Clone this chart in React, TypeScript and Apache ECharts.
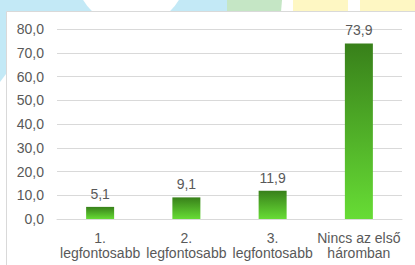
import React, { useEffect, useRef } from "react";
import * as echarts from "echarts";

const categories = ["1.\nlegfontosabb", "2.\nlegfontosabb", "3.\nlegfontosabb", "Nincs az első\nháromban"];
const values = [5.1, 9.1, 11.9, 73.9];
const yMin = 0;
const yMax = 80;
const yInterval = 10;

const fmt = (v: number) => v.toFixed(1).replace(".", ",");

export default function App() {
  const ref = useRef<HTMLDivElement>(null);
  useEffect(() => {
    if (!ref.current) return;
    const chart = echarts.init(ref.current, null, { renderer: "svg" });
    chart.setOption({
      animation: false,
      backgroundColor: "#ffffff",
      textStyle: { fontFamily: "Liberation Sans, Arial, sans-serif" },
      graphic: [
        {
          type: "polygon",
          z: -10,
          silent: true,
          shape: { points: [[0, 0], [227, 0], [227, 12], [6, 12], [6, 74], [0, 82]] },
          style: { fill: "#c3e9f6" },
        },
        {
          type: "circle",
          z: -9,
          silent: true,
          shape: { cx: 131, cy: -29, r: 56 },
          style: { fill: "#ffffff" },
        },
        {
          type: "polygon",
          z: -9,
          silent: true,
          shape: { points: [[227, 0], [282, 0], [281, 12], [227, 12]] },
          style: { fill: "#c5e6c5" },
        },
        {
          type: "rect",
          z: -9,
          silent: true,
          shape: { x: 293, y: 0, width: 55, height: 12 },
          style: { fill: "#fef7c3" },
        },
        {
          type: "rect",
          z: -9,
          silent: true,
          shape: { x: 360, y: 0, width: 60, height: 12 },
          style: { fill: "#fef7c3" },
        },
        {
          type: "rect",
          z: -8,
          silent: true,
          shape: { x: 6.5, y: 11.5, width: 420, height: 270 },
          style: { fill: "#ffffff", stroke: "#d9d9d9", lineWidth: 1 },
        },
      ],
      grid: { left: 57, right: 13, top: 29, bottom: 46, containLabel: false },
      xAxis: {
        type: "category",
        data: categories,
        axisTick: { show: false },
        axisLine: { show: true, lineStyle: { color: "#d9d9d9", width: 1 } },
        axisLabel: {
          color: "#595959",
          fontSize: 14,
          lineHeight: 15,
          margin: 11,
          interval: 0,
        },
      },
      yAxis: {
        type: "value",
        min: yMin,
        max: yMax,
        interval: yInterval,
        axisLine: { show: false },
        axisTick: { show: false },
        splitLine: { lineStyle: { color: "#d9d9d9", width: 1 } },
        axisLabel: {
          color: "#595959",
          fontSize: 14,
          margin: 13,
          formatter: (v: number) => fmt(v),
        },
      },
      series: [
        {
          type: "bar",
          data: values,
          barWidth: 28,
          itemStyle: {
            color: new echarts.graphic.LinearGradient(0, 0, 0, 1, [
              { offset: 0, color: "#38801a" },
              { offset: 1, color: "#67dc35" },
            ]),
          },
          label: {
            show: true,
            position: "top",
            distance: 6,
            color: "#595959",
            fontSize: 14,
            formatter: (p: any) => fmt(p.value),
          },
        },
      ],
    });
    return () => chart.dispose();
  }, []);
  return (
    <div
      ref={ref}
      style={{ position: "absolute", left: 0, top: 0, width: 415, height: 265 }}
    />
  );
}
